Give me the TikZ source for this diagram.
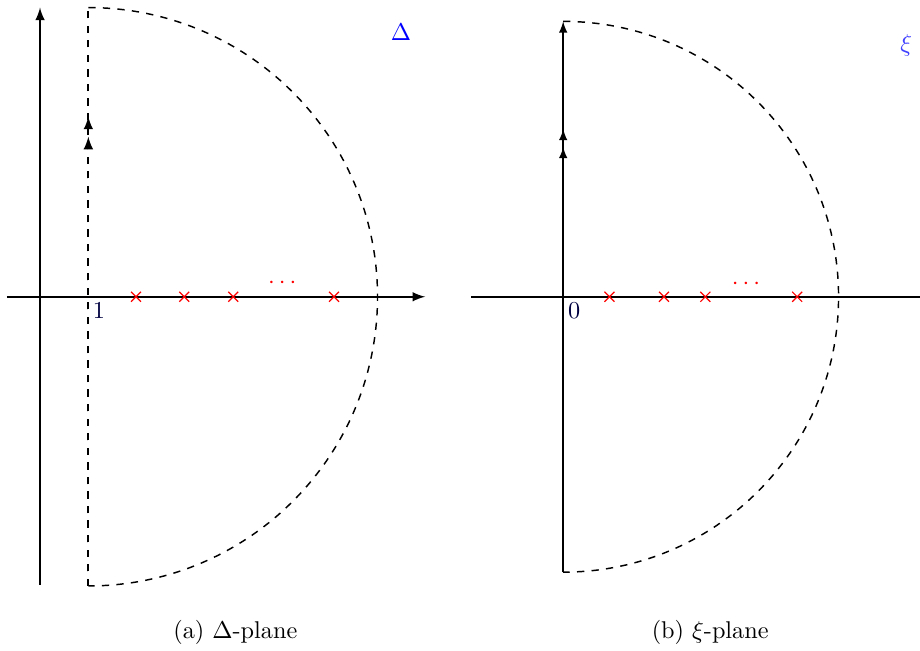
\documentclass[tikz,border=0pt]{standalone}
\usepackage{amssymb}
\usetikzlibrary{shapes.misc}
\tikzset{
	pole/.style={shape=cross out, draw=red, minimum size=3.6pt, inner sep=0pt, line width=0.5pt},
	axis/.style={thick, -latex},
	contour/.style={semithick, dashed},
	tick label/.style={text=blue!25!black, inner sep=1pt},
	plane label/.style={text=blue}
}
\begin{document}
\begin{tikzpicture}
		\useasboundingbox (-0.58, -5.12) rectangle (12.75, 4.30);
		% Delta-plane
		\draw[axis] (-0.48, 0) -- (5.58, 0);
		\draw[axis] (0, -4.17) -- (0, 4.19);
		\coordinate (D0) at (0.7, -4.19);
		\coordinate (D1) at (0.7, 4.19);
		\draw[thick, dashed] (D0) -- (D1);
		\draw[thick, dashed, -latex] (D0) -- (0.7, 2.32);
		\draw[thick, dashed, -latex] (D0) -- (0.7, 2.61);
		\draw[contour] (D1) arc (90:-90:4.19);
		\foreach \x [count=\i] in {1.39, 2.09, 2.80, 4.26}
			\node[pole](P\i) at (\x, 0){};
		\node[text=red](Pdots) at (3.51, 0.2){$\cdots$};
		\node[tick label](T1) at (0.855, -0.20){$1$};
		\node[plane label](LD) at (5.23, 3.84){$\Delta$};
		\node(CA) at (2.83, -4.86){(a) $\Delta$-plane};
		% xi-plane
		\draw[thick] (6.25, 0) -- (12.8, 0);
		\coordinate (X0) at (7.58, -3.99);
		\coordinate (X1) at (7.58, 3.99);
		\draw[semithick, -latex] (X0) -- (X1);
		\draw[semithick, -latex] (X0) -- (7.58, 2.17);
		\draw[semithick, -latex] (X0) -- (7.58, 2.43);
		\draw[contour] (X1) arc (90:-90:3.99);
		\foreach \x [count=\i] in {8.25, 9.04, 9.64, 10.97}
			\node[pole](Q\i) at (\x, 0){};
		\node[text=red](Qdots) at (10.23, 0.18){$\cdots$};
		\node[tick label](T0) at (7.74, -0.20){$0$};
		\node[plane label, text=blue!75](LX) at (12.55, 3.64){$\xi$};
		\node(CB) at (9.71, -4.86){(b) $\xi$-plane};
	\end{tikzpicture}
\end{document}
